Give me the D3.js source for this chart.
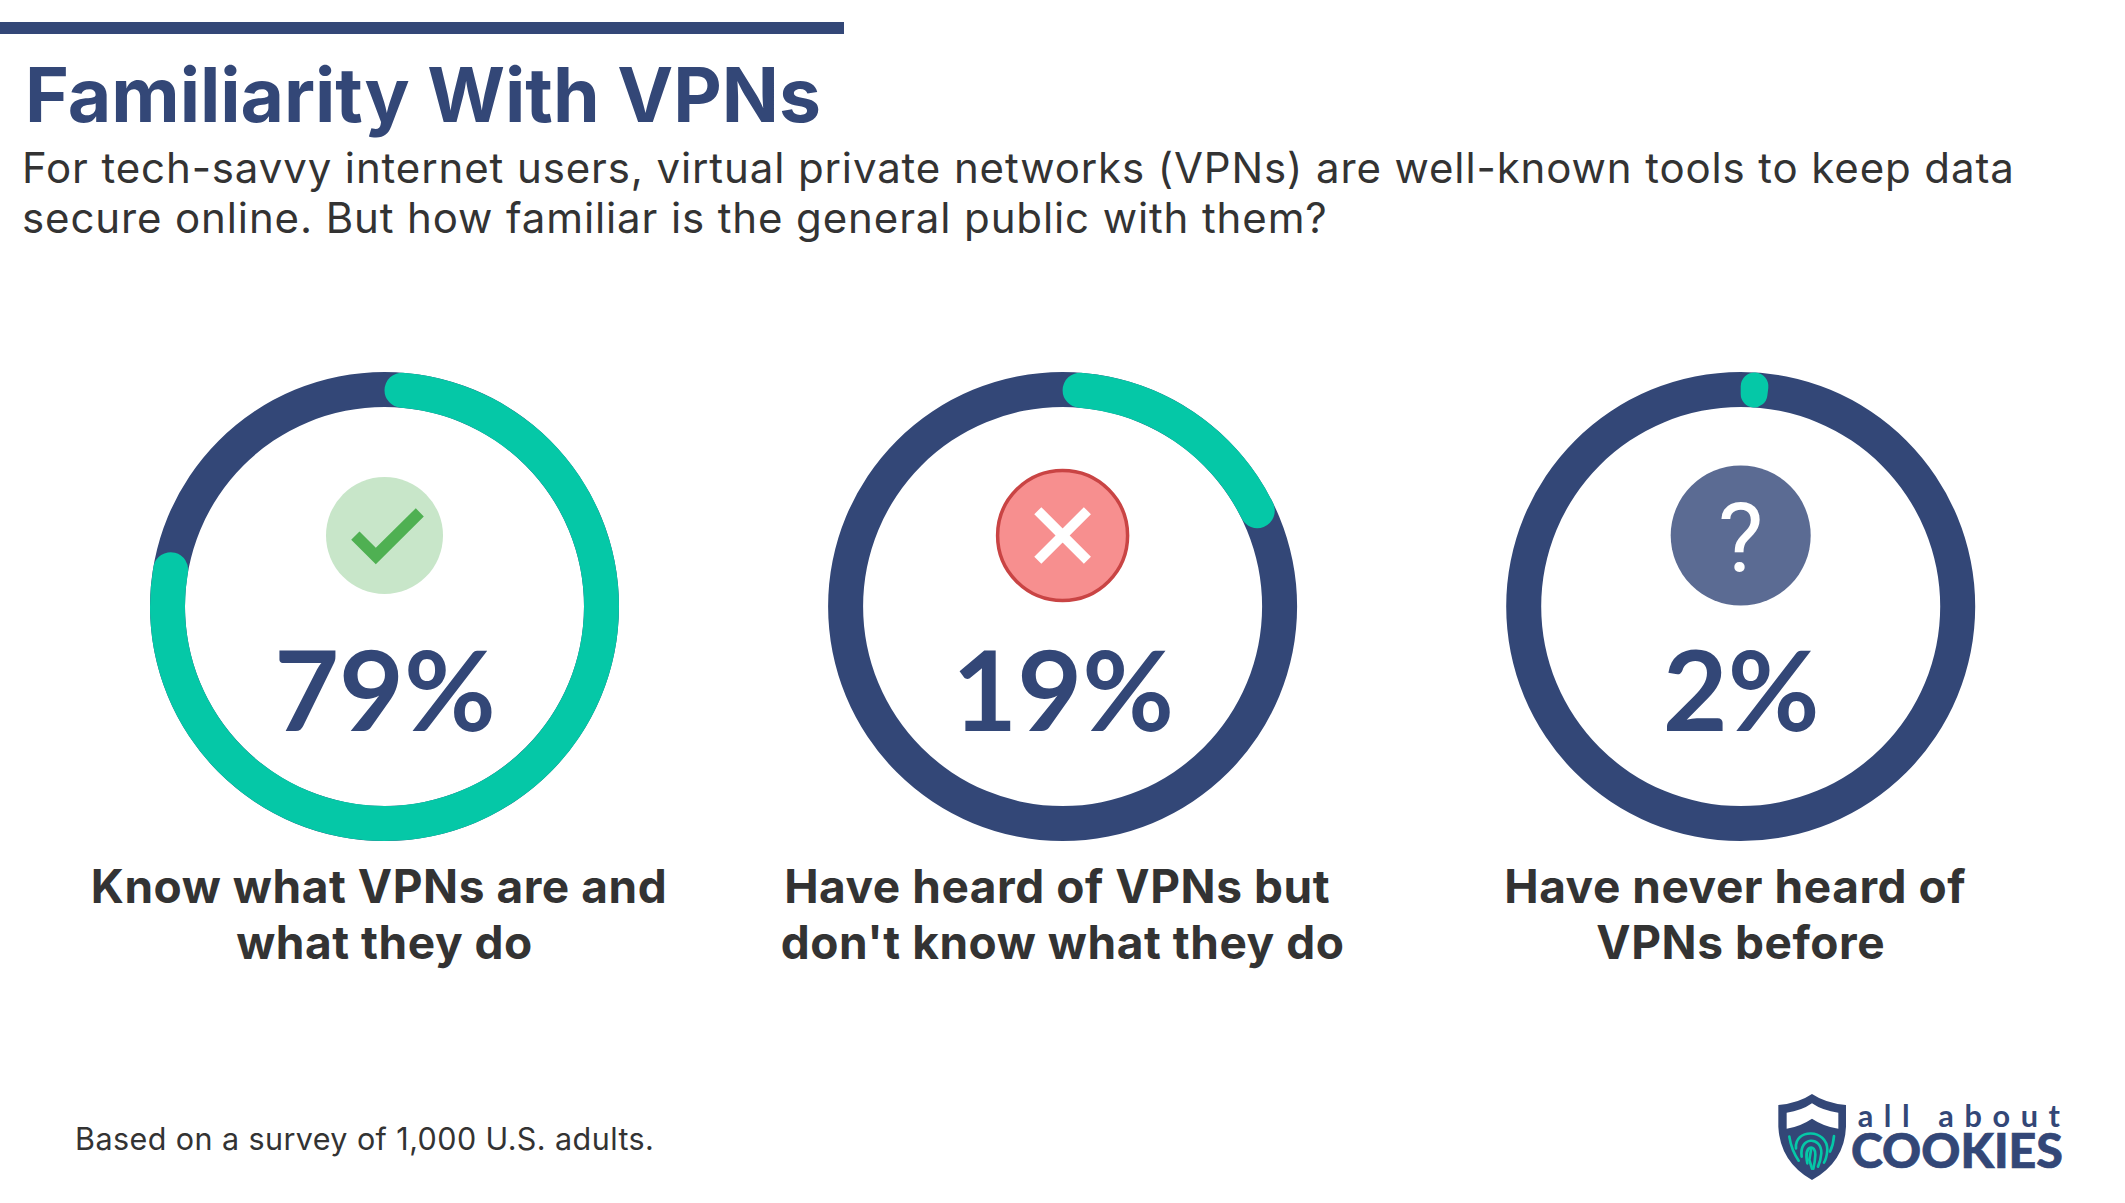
<!DOCTYPE html>
<html><head><meta charset="utf-8">
<script src="https://cdn.jsdelivr.net/npm/d3@7/dist/d3.min.js"></script>
<style>html,body{margin:0;padding:0;background:#fff}svg{display:block}</style>
</head><body><div id="chart"></div>
<script>
const percentages = [79, 19, 2];
const labelLines = [
  ["Know what VPNs are and", "what they do"],
  ["Have heard of VPNs but", "don't know what they do"],
  ["Have never heard of", "VPNs before"]
];
const iconKinds = ["check", "cross", "question"];
const titleText = "Familiarity With VPNs";
const subtitleLines = [
  "For tech-savvy internet users, virtual private networks (VPNs) are well-known tools to keep data",
  "secure online. But how familiar is the general public with them?"
];
const footnote = "Based on a survey of 1,000 U.S. adults.";

const W = 2125, H = 1203;
const NAVY = "#334777", TEAL = "#05C8A7", INK = "#333333";
const svg = d3.select("#chart").append("svg").attr("width", W).attr("height", H).attr("viewBox", [0,0,W,H]);
svg.append("rect").attr("width", W).attr("height", H).attr("fill", "#fff");

svg.append("rect").attr("x",0).attr("y",22).attr("width",844).attr("height",12).attr("fill",NAVY);
svg.append("text").attr("x",25).attr("y",122).attr("font-family","Inter").attr("font-weight",700)
  .attr("font-size",75).attr("letter-spacing",-0.04).attr("fill",NAVY).text(titleText);
svg.append("g").selectAll("text").data(subtitleLines).join("text")
  .attr("x",22).attr("y",(d,i)=>182.5+i*50.5).attr("font-family","Inter").attr("font-size",42)
  .attr("letter-spacing",0.88).attr("fill",INK).text(d=>d);
svg.append("text").attr("x",75).attr("y",1150).attr("font-family","Inter").attr("font-size",30.5)
  .attr("letter-spacing",0.42).attr("fill",INK).text(footnote);

const x = d3.scalePoint().domain(d3.range(percentages.length)).range([384.5,1740.7]);
const angle = d3.scaleLinear().domain([0,100]).range([0,2*Math.PI]);
const arc = d3.arc().innerRadius(199.5).outerRadius(234.5);

const g = svg.append("g").selectAll("g").data(percentages).join("g")
  .attr("transform",(d,i)=>`translate(${x(i)},606.5)`);
g.append("path").attr("fill",NAVY).attr("d",arc({startAngle:0,endAngle:2*Math.PI}));
g.append("path").attr("fill",TEAL)
  .attr("d",d=>arc.cornerRadius(17.5)({startAngle:angle(0),endAngle:angle(d)}));
g.append("text").attr("text-anchor","middle").attr("x",0.5).attr("y",124.5)
  .attr("font-family","Lato").attr("font-weight",700).attr("font-size",112).attr("fill",NAVY)
  .text(d=>d+"%");

// labels: the first line of each label sits slightly left of centre in the reference
g.each(function(d,i){
  d3.select(this).selectAll("text.lab").data(labelLines[i]).join("text").attr("class","lab")
    .attr("text-anchor","middle").attr("x",(t,j)=>j===0?-5.5:0).attr("y",(t,j)=>296+j*56.5)
    .attr("font-family","Inter").attr("font-weight",700).attr("font-size",46)
    .attr("letter-spacing",0.55).attr("fill",INK).text(t=>t);
});

// icons
const icon = g.append("g").attr("transform","translate(0,-71)");
icon.each(function(d,i){
  const s = d3.select(this), kind = iconKinds[i];
  if(kind==="check"){
    s.append("circle").attr("r",58.5).attr("fill","#C8E6C9");
    s.append("path").attr("fill","#4FB052").attr("d","M-33.3,4.3L-25,-4L-8.7,12.3L31.3,-27.3L39.3,-19L-8.7,28.7Z");
  } else if(kind==="cross"){
    s.append("circle").attr("r",65).attr("fill","#F78F8F").attr("stroke","#C94444").attr("stroke-width",3.5);
    s.append("path").attr("stroke","#fff").attr("stroke-width",10).attr("fill","none")
      .attr("d","M-24.8,-24.8L24.8,24.8M24.8,-24.8L-24.8,24.8");
  } else {
    s.append("circle").attr("r",70).attr("fill","#5B6B93");
    s.append("text").attr("text-anchor","middle").attr("y",35).attr("font-family","Roboto").attr("font-weight",400)
      .attr("font-size",96).attr("fill","#fff").text("?");
  }
});

// logo
const logo = svg.append("g").attr("transform","translate(1750,1070) scale(0.3333)");
logo.append("path").attr("fill",NAVY)
  .attr("d","M85,105Q145,100 186,72Q228,100 288,105L288,170Q284,275 186,330Q90,275 85,170Z");
logo.append("path").attr("fill","#fff").attr("d","M110,128Q155,122 186,100Q218,122 265,128L265,176Q222,170 186,146Q150,170 110,176Z");
const fp = logo.append("g").attr("fill","none").attr("stroke",TEAL).attr("stroke-width",8).attr("stroke-linecap","round");
fp.append("path").attr("d","M118,200Q124,240 146,272");
fp.append("path").attr("d","M252,198Q250,225 240,245");
fp.append("path").attr("d","M138,235C132,175 232,175 232,240Q230,265 222,278");
fp.append("path").attr("d","M155,260C146,198 216,198 214,250Q212,272 204,290");
fp.append("path").attr("d","M172,280C160,222 198,222 196,255Q195,275 190,296");
fp.append("path").attr("d","M183,240L178,270L186,296");
logo.append("text").attr("x",323).attr("y",172).attr("textLength",607).attr("lengthAdjust","spacing")
  .attr("font-family","Lato").attr("font-weight",700).attr("font-size",92).attr("fill",NAVY).text("all about");
logo.append("text").attr("x",303).attr("y",293).attr("textLength",636).attr("lengthAdjust","spacingAndGlyphs")
  .attr("font-family","Lato").attr("font-weight",900).attr("font-size",140).attr("stroke",NAVY).attr("stroke-width",2).attr("fill",NAVY).text("COOKIES");
</script></body></html>
